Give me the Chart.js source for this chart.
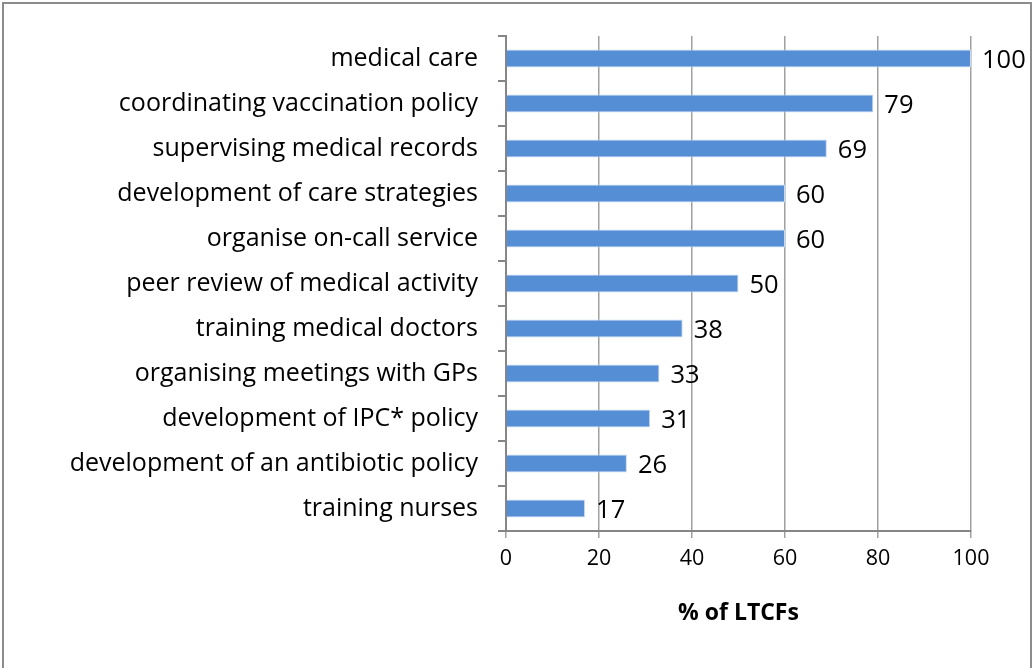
<!DOCTYPE html>
<html>
<head>
<meta charset="utf-8">
<script src="https://cdn.jsdelivr.net/npm/chart.js@4/dist/chart.umd.min.js"></script>
<style>
  html, body { margin: 0; padding: 0; background: #fff; }
  #wrap { width: 1033px; height: 668px; position: relative; }
</style>
</head>
<body>
<div id="wrap"><canvas id="myChart" width="1033" height="668"></canvas></div>
<script>
"use strict";

var categories = [
    "medical care",
    "coordinating vaccination policy",
    "supervising medical records",
    "development of care strategies",
    "organise on-call service",
    "peer review of medical activity",
    "training medical doctors",
    "organising meetings with GPs",
    "development of IPC* policy",
    "development of an antibiotic policy",
    "training nurses"
];
var values = [100, 79, 69, 60, 60, 50, 38, 33, 31, 26, 17];
var xTicks = [0, 20, 40, 60, 80, 100];

// draws the value next to each bar and the frame round the picture
var labelPlugin = {
    id: 'labels',
    beforeDraw: function (chart) {
        var c = chart.ctx;
        c.save();
        c.fillStyle = '#fff';
        c.fillRect(0, 0, chart.width, chart.height);
        c.strokeStyle = '#8c8c8c';
        c.lineWidth = 2;
        c.strokeRect(3, 3, 1028, 700);
        c.restore();
    },
    afterDatasetsDraw: function (chart) {
        var c = chart.ctx;
        var meta = chart.getDatasetMeta(0);
        c.save();
        c.font = '25.5px "Open Sans"';
        c.fillStyle = '#000';
        c.textBaseline = 'middle';
        c.textAlign = 'left';
        meta.data.forEach(function (bar, i) {
            c.fillText(values[i], bar.x + 11, bar.y + 2);
        });
        c.restore();
    }
};

var ctx = document.getElementById('myChart');

var myBarChart = new Chart(ctx, {
    type: 'bar',
    data: {
        labels: categories,
        datasets: [{
            data: values,
            backgroundColor: '#558ed5',
            borderColor: '#c6d9f1',
            borderWidth: 1,
            barPercentage: 0.4,
            categoryPercentage: 1.0
        }]
    },
    options: {
        indexAxis: 'y',
        responsive: false,
        animation: false,
        layout: { padding: { left: 0, right: 62, top: 36, bottom: 37 } },
        plugins: {
            legend: { display: false },
            tooltip: { enabled: false }
        },
        scales: {
            x: {
                min: 0,
                max: 100,
                afterBuildTicks: function (scale) {
                    scale.ticks = xTicks.map(function (v) { return { value: v }; });
                },
                afterFit: function (scale) { scale.height = 668 - 531 - 37; },
                grid: { color: '#a0a0a0', lineWidth: 1.5, tickLength: 7 },
                border: { color: '#868686', width: 2 },
                ticks: {
                    color: '#000',
                    font: { family: 'Open Sans', size: 21.5 },
                    padding: 8
                },
                title: {
                    display: true,
                    text: '% of LTCFs',
                    color: '#000',
                    font: { family: 'Open Sans', size: 23, weight: 'bold' },
                    padding: { top: 4, bottom: 4 }
                }
            },
            y: {
                afterFit: function (scale) { scale.width = 506; },
                grid: { drawOnChartArea: false, color: '#868686', lineWidth: 2, tickLength: 8, offset: true },
                border: { color: '#868686', width: 2 },
                ticks: {
                    color: '#000',
                    font: { family: 'Open Sans', size: 25 },
                    padding: 20
                }
            }
        }
    },
    plugins: [labelPlugin]
});
</script>
</body>
</html>
